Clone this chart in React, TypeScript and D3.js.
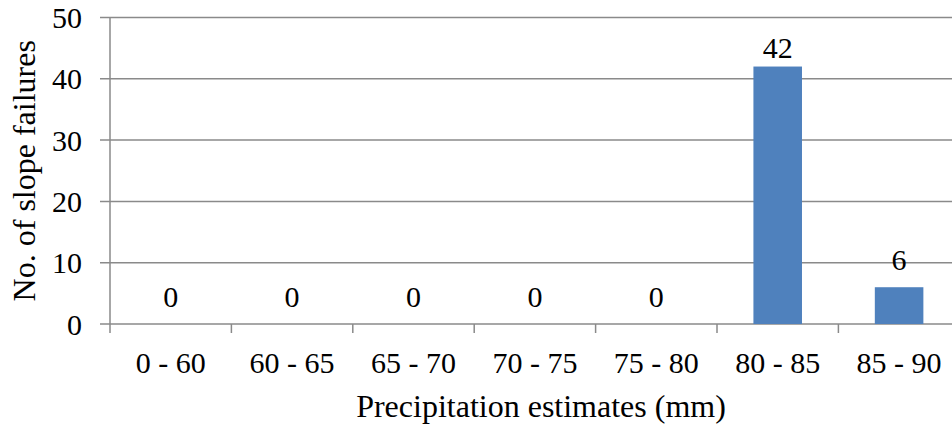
import React, { useEffect, useRef } from "react";
import * as d3 from "d3";

const categories = ["0 - 60", "60 - 65", "65 - 70", "70 - 75", "75 - 80", "80 - 85", "85 - 90"];
const failures = [0, 0, 0, 0, 0, 42, 6];
const yTicks = [0, 10, 20, 30, 40, 50];

export default function App() {
  const svgRef = useRef<SVGSVGElement>(null);

  useEffect(() => {
    const width = 952;
    const height = 427;
    const margin = { top: 17.5, left: 110, bottom: 103 };
    const plotBottom = height - margin.bottom;

    const svg = d3
      .select(svgRef.current)
      .attr("width", width)
      .attr("height", height)
      .style("font-family", '"Liberation Serif", Tinos, "Times New Roman", "DejaVu Serif", serif');
    svg.selectAll("*").remove();

    const x = d3
      .scaleBand()
      .domain(categories)
      .range([margin.left, margin.left + 7 * 121.4])
      .paddingInner(0.6)
      .paddingOuter(0.3);
    const xEdges = d3.scaleBand().domain(categories).range(x.range() as [number, number]);

    const y = d3.scaleLinear().domain([0, 50]).range([plotBottom, margin.top]);

    const gridColor = "#8a8a8a";

    // gridlines with left tick stubs
    svg
      .append("g")
      .selectAll("line")
      .data(yTicks)
      .join("line")
      .attr("x1", margin.left - 10)
      .attr("x2", width)
      .attr("y1", (d) => y(d))
      .attr("y2", (d) => y(d))
      .attr("stroke", gridColor)
      .attr("stroke-width", 1.5);

    // y axis line
    svg
      .append("line")
      .attr("x1", margin.left)
      .attr("x2", margin.left)
      .attr("y1", y(50))
      .attr("y2", plotBottom + 9)
      .attr("stroke", gridColor)
      .attr("stroke-width", 1.5);

    // x tick marks at band boundaries
    svg
      .append("g")
      .selectAll("line")
      .data(categories.slice(1))
      .join("line")
      .attr("x1", (d) => xEdges(d)!)
      .attr("x2", (d) => xEdges(d)!)
      .attr("y1", plotBottom)
      .attr("y2", plotBottom + 9)
      .attr("stroke", gridColor)
      .attr("stroke-width", 1.5);

    // y tick labels
    svg
      .append("g")
      .selectAll("text")
      .data(yTicks)
      .join("text")
      .attr("x", 82)
      .attr("y", (d) => y(d))
      .attr("dy", "0.35em")
      .attr("text-anchor", "end")
      .attr("font-size", 30)
      .text((d) => d);

    // x tick labels
    svg
      .append("g")
      .selectAll("text")
      .data(categories)
      .join("text")
      .attr("x", (d) => xEdges(d)! + xEdges.bandwidth() / 2)
      .attr("y", 373)
      .attr("text-anchor", "middle")
      .attr("font-size", 30)
      .text((d) => d);

    const data = categories.map((c, i) => ({ c, v: failures[i] }));
    const maxV = d3.max(failures)!;

    svg
      .append("g")
      .attr("fill", "#4f81bd")
      .selectAll("rect")
      .data(data)
      .join("rect")
      .attr("x", (d) => x(d.c)!)
      .attr("width", x.bandwidth())
      .attr("y", (d) => y(d.v))
      .attr("height", (d) => y(0) - y(d.v));

    // data labels
    svg
      .append("g")
      .selectAll("text")
      .data(data)
      .join("text")
      .attr("x", (d) => x(d.c)! + x.bandwidth() / 2)
      .attr("y", (d) => y(d.v) - (d.v === maxV ? 9 : 17))
      .attr("text-anchor", "middle")
      .attr("font-size", 30)
      .text((d) => d.v);

    // axis titles
    svg
      .append("text")
      .attr("x", 541)
      .attr("y", 417)
      .attr("text-anchor", "middle")
      .attr("font-size", 32)
      .text("Precipitation estimates (mm)");

    svg
      .append("text")
      .attr("transform", `translate(35, ${(margin.top + plotBottom) / 2}) rotate(-90)`)
      .attr("text-anchor", "middle")
      .attr("font-size", 32)
      .text("No. of slope failures");
  }, []);

  return (
    <svg
      ref={svgRef}
      style={{ position: "absolute", left: 0, top: 0, background: "#fff" }}
    ></svg>
  );
}
